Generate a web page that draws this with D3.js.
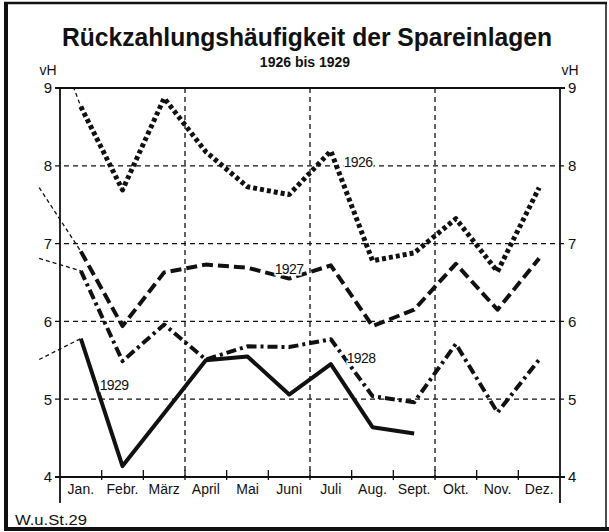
<!DOCTYPE html>
<html>
<head>
<meta charset="utf-8">
<script src="https://cdn.jsdelivr.net/npm/d3@7"></script>
<style>
  body { margin: 0; background: #fff; }
  text { font-family: "Liberation Sans", Arial, sans-serif; fill: #111; }
</style>
</head>
<body>
<div id="chart"></div>
<script>
// Chart data
var months = ["Jan.", "Febr.", "März", "April", "Mai", "Juni", "Juli", "Aug.", "Sept.", "Okt.", "Nov.", "Dez."];
var values1926 = [8.76, 7.69, 8.87, 8.18, 7.73, 7.63, 8.19, 6.78, 6.88, 7.32, 6.64, 7.72];
var values1927 = [6.90, 5.94, 6.63, 6.73, 6.69, 6.55, 6.72, 5.94, 6.15, 6.74, 6.15, 6.81];
var values1928 = [6.65, 5.49, 5.96, 5.51, 5.68, 5.67, 5.77, 5.04, 4.96, 5.71, 4.83, 5.51];
var values1929 = [5.78, 4.14, 4.82, 5.50, 5.55, 5.06, 5.45, 4.64, 4.56];
// December of the year before, shown as thin lead-in lines
var prevDec = {"1926": 10.2, "1927": 7.72, "1928": 6.81, "1929": 5.51};
var yTicks = [4, 5, 6, 7, 8, 9];

var svgWidth = 609;
var svgHeight = 532;
var margin = {top: 88, left: 60, right: 49, bottom: 55};
var plotRight = svgWidth - margin.right;
var plotBottom = svgHeight - margin.bottom;

var svg = d3.select("#chart")
  .append("svg")
  .attr("width", svgWidth)
  .attr("height", svgHeight);

// Scales
var x = d3.scaleBand()
  .domain(months)
  .range([margin.left, plotRight])
  .padding(0);

var y = d3.scaleLinear()
  .domain([4, 9])
  .range([plotBottom, margin.top]);

function cx(i) { return x(months[i]) + x.bandwidth() / 2; }

// Frame round the sheet
svg.append("line").attr("x1", 4).attr("x2", 607).attr("y1", 3).attr("y2", 3)
  .attr("stroke", "#111").attr("stroke-width", 2.5);
svg.append("line").attr("x1", 6).attr("x2", 6).attr("y1", 2).attr("y2", 530)
  .attr("stroke", "#111").attr("stroke-width", 4);
svg.append("line").attr("x1", 4).attr("x2", 609).attr("y1", 529).attr("y2", 529)
  .attr("stroke", "#111").attr("stroke-width", 4);
svg.append("line").attr("x1", 606).attr("x2", 606).attr("y1", 2).attr("y2", 530)
  .attr("stroke", "#111").attr("stroke-width", 1.5);

// Title
svg.append("text")
  .attr("x", 307).attr("y", 46)
  .attr("text-anchor", "middle")
  .attr("textLength", 490)
  .attr("lengthAdjust", "spacingAndGlyphs")
  .style("font-size", "25px")
  .style("font-weight", "bold")
  .text("Rückzahlungshäufigkeit der Spareinlagen");

svg.append("text")
  .attr("x", 305).attr("y", 67)
  .attr("text-anchor", "middle")
  .style("font-size", "14px")
  .style("font-weight", "bold")
  .text("1926 bis 1929");

// vH unit labels
svg.append("text").attr("x", 48).attr("y", 75).attr("text-anchor", "middle")
  .style("font-size", "14px").text("vH");
svg.append("text").attr("x", 570).attr("y", 75).attr("text-anchor", "middle")
  .style("font-size", "14px").text("vH");

// Horizontal dashed grid
svg.append("g").selectAll("line")
  .data(yTicks.filter(d => d > 4 && d < 9))
  .enter().append("line")
  .attr("x1", margin.left - 5).attr("x2", plotRight + 5)
  .attr("y1", d => y(d)).attr("y2", d => y(d))
  .attr("stroke", "#111").attr("stroke-width", 1.3)
  .attr("stroke-dasharray", "5 4");

// Vertical dashed grid at quarter boundaries
svg.append("g").selectAll("line")
  .data([3, 6, 9])
  .enter().append("line")
  .attr("x1", d => margin.left + d * x.step()).attr("x2", d => margin.left + d * x.step())
  .attr("y1", margin.top).attr("y2", plotBottom)
  .attr("stroke", "#111").attr("stroke-width", 1.3)
  .attr("stroke-dasharray", "5 4");

// Top line (9) and bottom axis line (4)
svg.append("line").attr("x1", margin.left - 5).attr("x2", plotRight + 5)
  .attr("y1", y(9)).attr("y2", y(9)).attr("stroke", "#111").attr("stroke-width", 2);
svg.append("line").attr("x1", margin.left - 5).attr("x2", plotRight + 5)
  .attr("y1", y(4)).attr("y2", y(4)).attr("stroke", "#111").attr("stroke-width", 2);

// Left and right axes
var leftAxis = d3.axisLeft(y).tickValues(yTicks).tickFormat(d3.format("d")).tickSize(0).tickPadding(8);
var rightAxis = d3.axisRight(y).tickValues(yTicks).tickFormat(d3.format("d")).tickSize(0).tickPadding(8);

var gLeft = svg.append("g")
  .attr("transform", `translate(${margin.left}, 0)`)
  .call(leftAxis);
var gRight = svg.append("g")
  .attr("transform", `translate(${plotRight}, 0)`)
  .call(rightAxis);

[gLeft, gRight].forEach(function (g) {
  g.select(".domain").remove();
  g.selectAll("text")
    .style("font-size", "15px")
    .style("font-family", "Liberation Sans, Arial, sans-serif")
    .attr("fill", "#111");
  g.append("line")
    .attr("x1", 0).attr("x2", 0)
    .attr("y1", margin.top).attr("y2", plotBottom + 26)
    .attr("stroke", "#111").attr("stroke-width", 1.8);
});

// Month ticks on the bottom axis
svg.append("g").selectAll("line")
  .data(d3.range(1, 12))
  .enter().append("line")
  .attr("x1", d => margin.left + d * x.step()).attr("x2", d => margin.left + d * x.step())
  .attr("y1", plotBottom - 7).attr("y2", plotBottom + 3)
  .attr("stroke", "#111").attr("stroke-width", 1.3);

var bottomAxis = d3.axisBottom(x).tickSize(0).tickPadding(7);
var gBottom = svg.append("g")
  .attr("transform", `translate(0, ${plotBottom})`)
  .call(bottomAxis);
gBottom.select(".domain").remove();
gBottom.selectAll("text")
  .style("font-size", "14px")
  .style("font-family", "Liberation Sans, Arial, sans-serif")
  .attr("fill", "#111");

// Clip for the data lines
svg.append("clipPath").attr("id", "plotClip")
  .append("rect")
  .attr("x", 0).attr("y", margin.top)
  .attr("width", svgWidth).attr("height", plotBottom - margin.top);

var line = d3.line()
  .x(d => d.x)
  .y(d => y(d.v));

var series = [
  {year: "1926", values: values1926, dash: "4 3", width: 5},
  {year: "1927", values: values1927, dash: "11 5", width: 4},
  {year: "1928", values: values1928, dash: "10 4 3 4", width: 4},
  {year: "1929", values: values1929, dash: null, width: 4}
];

var lines = svg.append("g").attr("clip-path", "url(#plotClip)");

series.forEach(function (s) {
  var pts = s.values.map((v, i) => ({x: cx(i), v: v}));
  // thin lead-in from previous December
  lines.append("path")
    .attr("d", line([{x: cx(0) - x.step(), v: prevDec[s.year]}, pts[0]]))
    .attr("fill", "none")
    .attr("stroke", "#111")
    .attr("stroke-width", 1.3)
    .attr("stroke-dasharray", "4 3");
  lines.append("path")
    .attr("d", line(pts))
    .attr("fill", "none")
    .attr("stroke", "#111")
    .attr("stroke-width", s.width)
    .attr("stroke-linejoin", "round")
    .attr("stroke-dasharray", s.dash);
});

// Year labels with a white backing
var yearLabels = [
  {t: "1926", x: 358, y: 167},
  {t: "1927", x: 289, y: 274},
  {t: "1928", x: 361, y: 363},
  {t: "1929", x: 114, y: 390}
];
svg.append("g").selectAll("text")
  .data(yearLabels)
  .enter().append("text")
  .attr("x", d => d.x).attr("y", d => d.y)
  .attr("text-anchor", "middle")
  .style("font-size", "14px")
  .style("letter-spacing", "-0.6px")
  .style("paint-order", "stroke")
  .style("stroke", "#fff")
  .style("stroke-width", "3px")
  .text(d => d.t);

// Source note
svg.append("text")
  .attr("x", 15).attr("y", 525)
  .attr("textLength", 72)
  .attr("lengthAdjust", "spacingAndGlyphs")
  .style("font-size", "14px")
  .text("W.u.St.29");
</script>
</body>
</html>
